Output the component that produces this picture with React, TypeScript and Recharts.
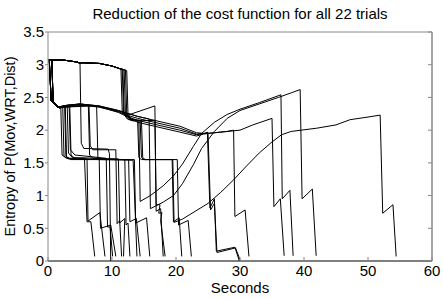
import { LineChart, Line, XAxis, YAxis } from "recharts";

// x ticks (seconds) and y ticks (entropy)
const xTicks = [0, 10, 20, 30, 40, 50, 60];
const yTicks = [0, 0.5, 1, 1.5, 2, 2.5, 3, 3.5];

// shared starts: the long top run, and the two early drops to the 2.35 level
const topStart = [[0, 3.07], [2.5, 3.07], [4.6, 3.04], [5.0, 3.02]];
const topRun = [[5.3, 3.03], [8.0, 3.02], [10.0, 2.98], [11.2, 2.94]];
const dropA = [[0, 3.07], [0.2, 3.07], [0.5, 2.45], [1.5, 2.35]];
const dropB = [[0, 3.07], [0.6, 3.07], [0.8, 2.44], [1.8, 2.34]];

// the 22 trials, [seconds, entropy]
const t01 = [...dropA, [2.0, 2.36], [2.2, 1.62], [2.9, 1.57], [5.7, 1.57], [6.1, 0.6], [6.7, 0.6], [7.3, 0.07]];
const t02 = [...dropB, [2.3, 2.37], [2.5, 1.6], [3.2, 1.56], [6.1, 1.56], [6.25, 0.61], [8.1, 0.74], [8.9, 0.07]];
const t03 = [...topStart, [5.2, 1.8], [5.6, 1.72], [9.4, 1.71], [9.6, 1.64], [9.8, 0.0]];
const t04 = [...dropA, [3.0, 2.38], [3.2, 1.65], [3.8, 1.58], [8.0, 1.57], [8.2, 0.5], [9.8, 0.55], [10.6, 0.07]];
const t05 = [...dropB, [3.3, 2.38], [3.5, 1.7], [4.2, 1.62], [9.1, 1.57], [9.3, 0.52], [9.7, 0.52], [10.1, 0.07]];
const t06 = [...dropA, [6.4, 2.38], [6.6, 1.76], [7.0, 1.7], [10.6, 1.7], [10.8, 0.57], [11.2, 0.62], [11.5, 0.07]];
const t07 = [...dropB, [6.3, 2.39], [6.5, 1.62], [7.0, 1.57], [11.0, 1.56], [11.2, 0.58], [12.0, 0.65], [11.8, 0.07]];
const t08 = [...dropA, [7.6, 2.37], [7.8, 1.58], [8.4, 1.56], [12.0, 1.55], [12.2, 0.55], [12.5, 0.58], [12.8, 0.07]];
const t09 = [...dropB, [2.6, 2.37], [2.8, 1.6], [3.5, 1.56], [8.0, 1.55], [13.3, 1.54], [13.9, 0.07]];
const t10 = [...dropA, [2.7, 2.37], [2.9, 1.59], [3.6, 1.55], [13.5, 1.55], [13.7, 0.58], [15.4, 0.66], [15.9, 0.07]];
const t11 = [...topStart, ...topRun, [11.4, 2.93], [11.6, 2.28], [12.4, 2.17], [14.0, 2.15], [14.2, 1.58], [14.6, 1.55], [19.4, 1.55], [19.6, 0.6], [20.5, 0.66], [20.9, 0.07]];
const t12 = [...topStart, ...topRun, [11.9, 2.92], [12.1, 2.26], [12.9, 2.15], [14.4, 2.15], [14.6, 1.58], [15.0, 1.55], [20.2, 1.55], [20.4, 0.55], [21.9, 0.62], [22.4, 0.07]];
const t13 = [...dropB, [3.0, 2.37], [5.0, 2.39], [8.0, 2.36], [11.0, 2.29], [12.3, 2.25], [12.8, 2.24], [16.7, 2.37], [16.9, 0.86], [17.5, 0.86], [17.3, 0.73], [17.8, 0.74], [17.6, 0.62], [18.3, 0.07]];
const t14 = [...topStart, ...topRun, [12.3, 2.91], [12.5, 2.24], [13.2, 2.14], [16.7, 2.15], [16.9, 0.76], [17.6, 0.8], [18.0, 0.07]];
const t15 = [...dropB, [3.4, 2.38], [3.6, 1.62], [4.3, 1.56], [12.6, 1.55], [12.8, 0.6], [13.8, 0.65], [14.4, 0.07]];
const su1 = [...topStart, ...topRun, [11.6, 2.93], [11.8, 2.27], [12.6, 2.16], [14.2, 2.15], [14.4, 0.91], [16, 1.0], [18, 1.15], [19.6, 1.3], [21, 1.48], [22.7, 1.75], [24, 1.95], [26, 2.12], [28, 2.24], [30, 2.32], [33, 2.42], [36.4, 2.54], [36.6, 0.95], [37.8, 1.08], [38.3, 0.08]];
const su2 = [...dropA, [3, 2.38], [5, 2.4], [8, 2.37], [11, 2.3], [12.3, 2.26], [14, 2.21], [15.8, 2.17], [16.0, 0.8], [18, 0.9], [19.6, 1.0], [21, 1.18], [22.7, 1.47], [24, 1.72], [26, 1.98], [28, 2.18], [30, 2.3], [33, 2.4], [36, 2.5], [38, 2.57], [39.4, 2.62], [39.7, 0.95], [41.3, 1.1], [41.9, 0.08]];
const sl = [...topStart, ...topRun, [12.1, 2.92], [12.3, 2.25], [13, 2.15], [14.6, 2.15], [14.8, 1.58], [15.2, 1.55], [19.5, 1.55], [19.7, 0.59], [21, 0.64], [23, 0.76], [25, 0.88], [27, 1.05], [29, 1.24], [31, 1.45], [33, 1.65], [35, 1.82], [36.5, 1.93], [38, 1.98], [42, 2.03], [45, 2.08], [47.2, 2.16], [50, 2.2], [51.9, 2.23], [52.3, 0.73], [53.9, 0.86], [54.4, 0.07]];
const r1 = [...dropA, [3, 2.38], [5, 2.4], [8, 2.37], [11, 2.3], [12.3, 2.26], [14, 2.21], [17.5, 2.13], [20.6, 2.06], [23.2, 1.96], [24.5, 1.95], [24.9, 1.97], [25.3, 0.81], [26.0, 0.95], [26.3, 0.15], [29.2, 0.21], [29.9, 0]];
const r2 = [...dropB, [3, 2.37], [5, 2.39], [8, 2.35], [11, 2.28], [12.3, 2.23], [14, 2.18], [17.5, 2.1], [20.6, 2.03], [23.2, 1.94], [24.5, 1.95], [26, 1.96], [28, 1.98], [29, 2.0], [29.2, 0.68], [30.8, 0.78], [31.4, 0.07]];
const r3 = [...topStart, ...topRun, [11.7, 2.93], [11.9, 2.26], [12.5, 2.2], [14, 2.12], [17.5, 2.04], [20.6, 1.97], [23.2, 1.91], [24.3, 1.94], [26, 1.96], [28, 1.98], [30, 2.0], [32, 2.08], [35, 2.18], [35.3, 0.83], [36.3, 0.95], [36.9, 0.08]];
const r4 = [...dropA, [3, 2.38], [5, 2.4], [8, 2.36], [11, 2.27], [12.3, 2.21], [14, 2.15], [17.5, 2.07], [20.6, 2.0], [23.2, 1.93], [25.0, 1.96], [25.4, 0.78], [26, 0.88], [26.4, 0.13], [29.3, 0.2], [30.0, 0.02]];

const trials = [t01, t02, t03, t04, t05, t06, t07, t08, t09, t10, t11, t12, t13, t14, t15, su1, su2, sl, r1, r2, r3, r4];

const font = "'Liberation Sans', Arial, Helvetica, sans-serif";
const grey = "#888";

export default function App() {
  return (
    <div style={{ position: "absolute", left: 0, top: 0, fontFamily: font, background: "#fff" }}>
      <LineChart width={443} height={299} margin={{ top: 31, right: 10, bottom: 0, left: 0 }}>
        <XAxis
          xAxisId={0}
          dataKey="x"
          type="number"
          domain={[0, 60]}
          ticks={xTicks}
          height={38}
          tickSize={-4}
          tickMargin={8}
          tick={{ fill: "#000", fontSize: 15 }}
          axisLine={{ stroke: "#000" }}
          tickLine={{ stroke: grey }}
          allowDataOverflow
          label={{ value: "Seconds", position: "insideBottom", offset: 6, fill: "#000", fontSize: 15 }}
        />
        <XAxis
          xAxisId="top"
          orientation="top"
          type="number"
          domain={[0, 60]}
          ticks={xTicks}
          height={1}
          tickSize={-4}
          tickFormatter={() => ""}
          axisLine={{ stroke: grey }}
          tickLine={{ stroke: grey }}
          allowDataOverflow
          label={{ value: "Reduction of the cost function for all 22 trials", position: "top", offset: 12, fill: "#000", fontSize: 15 }}
        />
        <YAxis
          yAxisId={0}
          type="number"
          domain={[0, 3.5]}
          ticks={yTicks}
          width={48}
          tickSize={3}
          tickMargin={1}
          tick={{ fill: "#000", fontSize: 15 }}
          axisLine={{ stroke: grey }}
          tickLine={{ stroke: grey }}
          allowDataOverflow
          label={{
            value: "Entropy of P(Mov,WRT,Dist)",
            angle: -90,
            position: "insideLeft",
            offset: 10,
            fill: "#000",
            fontSize: 14.5,
            style: { textAnchor: "middle" },
          }}
        />
        <YAxis
          yAxisId="right"
          orientation="right"
          type="number"
          domain={[0, 3.5]}
          ticks={yTicks}
          width={1}
          tickSize={-4}
          tickFormatter={() => ""}
          axisLine={{ stroke: grey, strokeWidth: 1.5 }}
          tickLine={{ stroke: grey }}
          allowDataOverflow
        />
        {trials.map((pts, i) => (
          <Line
            key={i}
            xAxisId={0}
            yAxisId={0}
            data={pts.map(([x, y]) => ({ x, y }))}
            dataKey="y"
            type="linear"
            stroke="#000"
            strokeWidth={1}
            dot={false}
            activeDot={false}
            isAnimationActive={false}
          />
        ))}
      </LineChart>
    </div>
  );
}
